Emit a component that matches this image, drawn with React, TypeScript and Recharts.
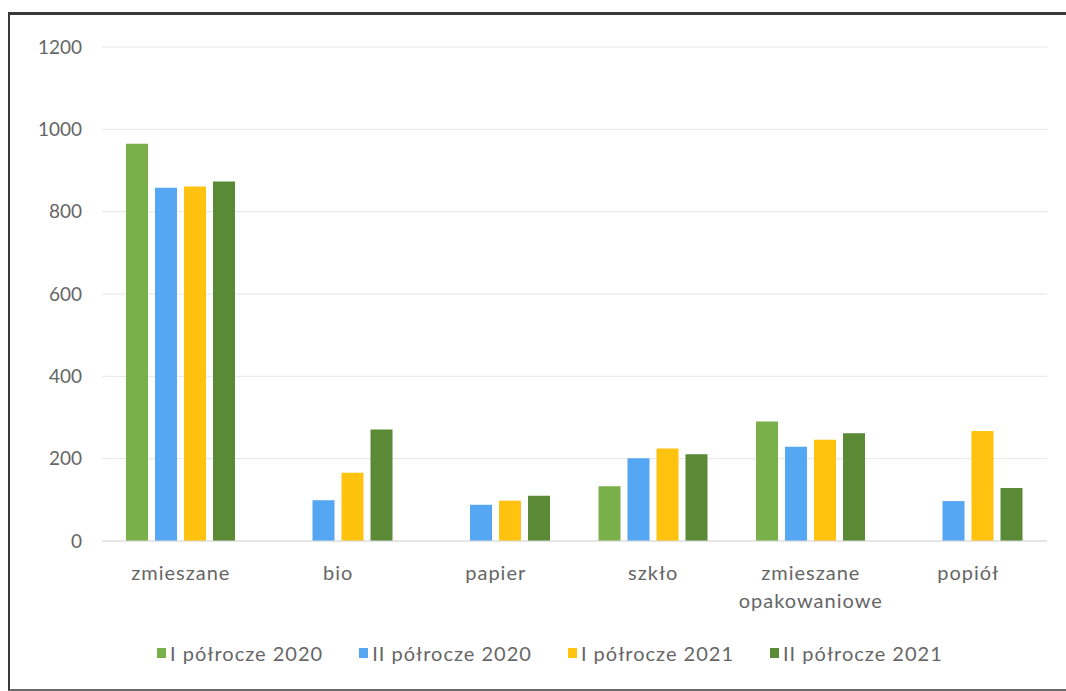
import React from "react";
import { BarChart, Bar, XAxis, YAxis, CartesianGrid } from "recharts";

const categories = ["zmieszane", "bio", "papier", "szkło", "zmieszane opakowaniowe", "popiół"];
const seriesNames = ["I półrocze 2020", "II półrocze 2020", "I półrocze 2021", "II półrocze 2021"];
const seriesColors = ["#7AB04A", "#55A7F3", "#FFC20E", "#5B8A37"];
const h1_2020 = [965, null, null, 133, 290, null];
const h2_2020 = [858, 99, 88, 201, 229, 97];
const h1_2021 = [861, 166, 98, 225, 246, 267];
const h2_2021 = [873, 271, 110, 211, 262, 129];
const yTicks = [0, 200, 400, 600, 800, 1000, 1200];

const seriesValues = [h1_2020, h2_2020, h1_2021, h2_2021];
const data = categories.map((c, i) => {
  const row: any = { name: c };
  seriesNames.forEach((s, k) => {
    row["s" + k] = seriesValues[k][i];
  });
  return row;
});

const FONT = "Lato, 'Open Sans', sans-serif";
const TEXT = "#666666";

const XTick = (props: any) => {
  const { x, y, payload } = props;
  const words = String(payload.value).split(" ");
  return (
    <text x={x} y={y} textAnchor="middle" fill={TEXT} fontFamily={FONT} fontSize={20} letterSpacing={1}>
      {words.map((w, i) => (
        <tspan key={i} x={x} dy={i === 0 ? 0 : 28}>
          {w}
        </tspan>
      ))}
    </text>
  );
};

export default function App() {
  return (
    <div style={{ position: "absolute", left: 0, top: 0, width: 1066, height: 691, background: "#fff", overflow: "hidden" }}>
      <div
        style={{
          position: "absolute",
          left: 8,
          top: 12,
          width: 1070,
          height: 674,
          borderLeft: "2px solid #3a3a3a",
          borderTop: "3px solid #3a3a3a",
          borderBottom: "2px solid #6a6a6a",
        }}
      />
      <div style={{ position: "absolute", left: 0, top: 0 }}>
        <BarChart
          width={1066}
          height={691}
          data={data}
          margin={{ top: 47, right: 19, left: 0, bottom: 90 }}
          barGap={7}
          barCategoryGap="14%"
        >
          <CartesianGrid vertical={false} stroke="#e6e6e6" strokeWidth={1} />
          <XAxis
            dataKey="name"
            axisLine={{ stroke: "#d9d9d9" }}
            tickLine={false}
            tick={<XTick />}
            tickMargin={33}
            height={60}
            interval={0}
          />
          <YAxis
            domain={[0, 1200]}
            ticks={yTicks}
            width={102}
            axisLine={false}
            tickLine={false}
            tickSize={0}
            tickMargin={20}
            tick={{ fill: TEXT, fontFamily: FONT, fontSize: 19 }}
          />
          {seriesNames.map((s, k) => (
            <Bar key={s} dataKey={"s" + k} name={s} fill={seriesColors[k]} barSize={22} isAnimationActive={false} />
          ))}
        </BarChart>
      </div>
      <div
        style={{
          position: "absolute",
          left: 157,
          top: 641,
          display: "flex",
          gap: 36,
          fontFamily: FONT,
          fontSize: 20,
          letterSpacing: 1,
          color: TEXT,
          whiteSpace: "nowrap",
        }}
      >
        {seriesNames.map((s, k) => (
          <div key={s} style={{ display: "flex", alignItems: "center" }}>
            <span style={{ display: "inline-block", width: 9, height: 10, background: seriesColors[k], marginRight: 4 }} />
            <span>{s}</span>
          </div>
        ))}
      </div>
    </div>
  );
}
